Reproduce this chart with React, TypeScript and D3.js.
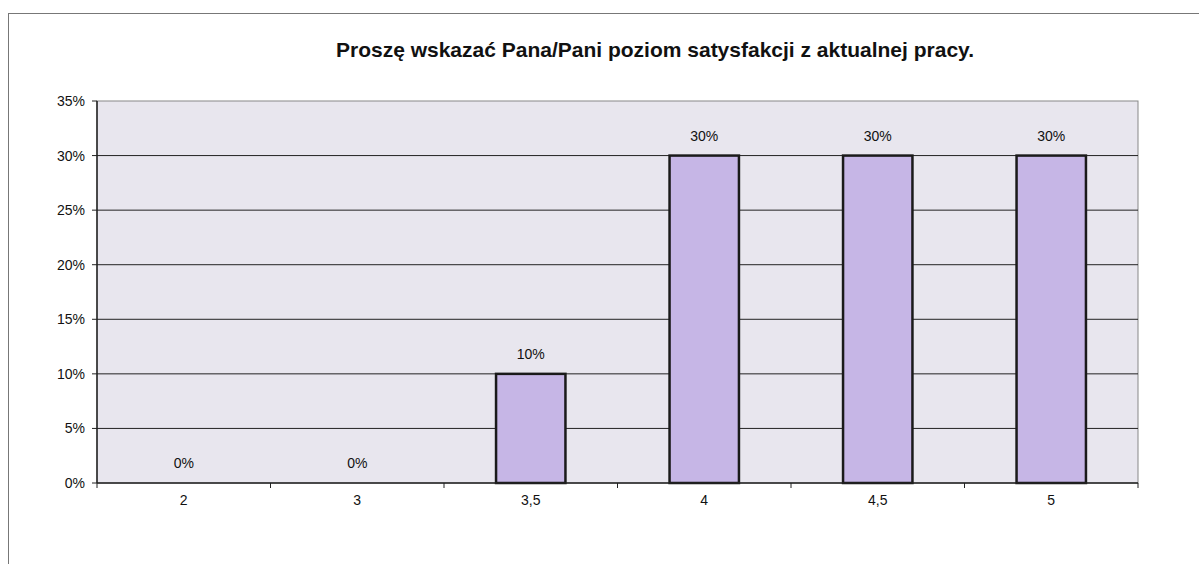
import React from "react";
import * as d3 from "d3";

const categories = ["2", "3", "3,5", "4", "4,5", "5"];
const values = [0, 0, 10, 30, 30, 30];
const yTicks = [0, 5, 10, 15, 20, 25, 30, 35];
const title = "Proszę wskazać Pana/Pani poziom satysfakcji z aktualnej pracy.";

export default function App() {
  const W = 1199, H = 564;
  const left = 97, right = 1138, top = 101, bottom = 483;
  const x = d3.scaleBand<string>().domain(categories).range([left, right]).paddingInner(0).paddingOuter(0);
  const y = d3.scaleLinear().domain([0, 35]).range([bottom, top]);
  const bw = x.bandwidth() / 2.5;
  const font = "Arial, 'Liberation Sans', Helvetica, sans-serif";
  return (
    <svg width={W} height={H} style={{ position: "absolute", left: 0, top: 0, background: "#fff" }}>
      <rect x={8.5} y={13.5} width={1200} height={600} fill="#fff" stroke="#777" strokeWidth={1} />
      <text x={655} y={57} textAnchor="middle" fontFamily={font} fontWeight="bold" fontSize={21} fill="#111">{title}</text>
      <rect x={left} y={top} width={right - left} height={bottom - top} fill="#e8e6ee" stroke="#888" strokeWidth={1} />
      {yTicks.map((t) => (
        <g key={t}>
          {t > 0 && t < 35 && <line x1={left} x2={right} y1={y(t)} y2={y(t)} stroke="#222" strokeWidth={1} />}
          <line x1={left - 5} x2={left} y1={y(t)} y2={y(t)} stroke="#222" strokeWidth={1} />
          <text x={left - 12} y={y(t) + 5} textAnchor="end" fontFamily={font} fontSize={14} fill="#111">{t}%</text>
        </g>
      ))}
      {categories.map((c, i) => {
        const cx = (x(c) as number) + x.bandwidth() / 2;
        const v = values[i];
        return (
          <g key={c}>
            {v > 0 && (
              <rect x={cx - bw / 2} y={y(v)} width={bw} height={bottom - y(v)} fill="#c6b6e6" stroke="#1a1a1a" strokeWidth={2.5} />
            )}
            <text x={cx} y={y(v) - 15} textAnchor="middle" fontFamily={font} fontSize={14} fill="#111">{v}%</text>
            <text x={cx} y={bottom + 22} textAnchor="middle" fontFamily={font} fontSize={14} fill="#111">{c}</text>
          </g>
        );
      })}
      {d3.range(categories.length + 1).map((i) => {
        const xx = left + i * x.bandwidth();
        return <line key={i} x1={xx} x2={xx} y1={bottom} y2={bottom + 5} stroke="#222" strokeWidth={1} />;
      })}
      <line x1={left} x2={left} y1={top} y2={bottom} stroke="#222" strokeWidth={1.5} />
      <line x1={left} x2={right} y1={bottom} y2={bottom} stroke="#222" strokeWidth={1.5} />
    </svg>
  );
}
